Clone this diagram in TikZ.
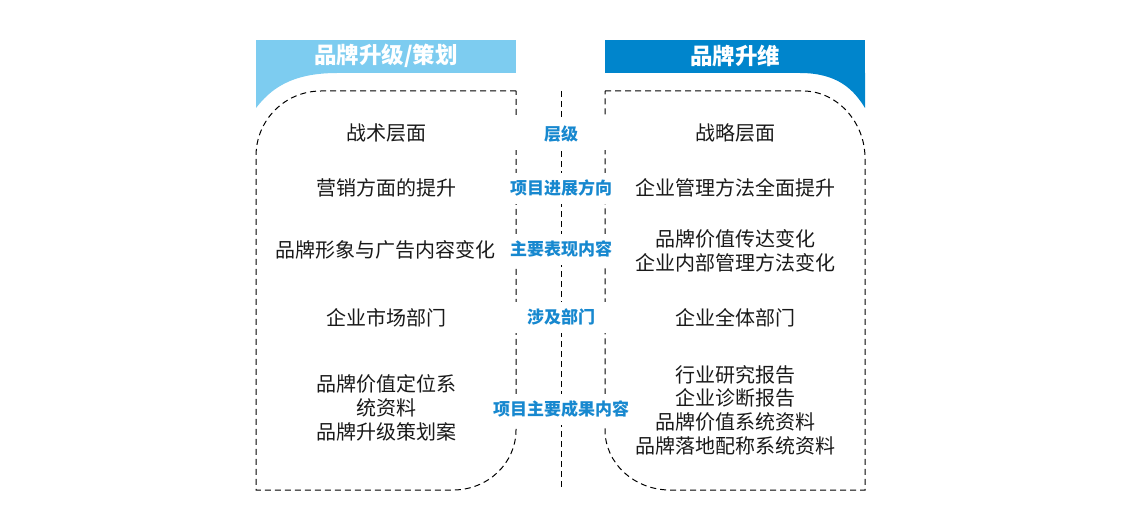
\documentclass[tikz,border=0pt]{standalone}
\usepackage{fontspec}
\newfontfamily\cjk{Noto Sans CJK SC}
\definecolor{lightblue}{RGB}{125,204,240}
\definecolor{darkblue}{RGB}{0,133,204}
\definecolor{labelblue}{RGB}{23,136,207}
\definecolor{textblack}{RGB}{25,25,25}
\begin{document}
\begin{tikzpicture}[x=1pt,y=-1pt,
  dashline/.style={draw=black,line width=1pt,dash pattern=on 6pt off 4pt},
  body/.style={font=\cjk\fontsize{20}{23.7}\selectfont,text=textblack,align=center,inner sep=0pt},
  midlabel/.style={font=\cjk\bfseries\fontsize{17}{20}\selectfont,text=labelblue,fill=white,
    minimum width=92pt,minimum height=31pt,inner sep=1pt},
  title/.style={font=\cjk\bfseries\fontsize{22.5}{24}\selectfont,text=white,inner sep=0pt}]
\useasboundingbox (0,0) rectangle (1121,532);

% banners
\fill[lightblue] (256,40) rectangle (516,73);
\fill[lightblue] (256,73) -- (337,73) .. controls (290,73) and (270,90) .. (256,108) -- cycle;
\fill[darkblue] (605,40) rectangle (865,73);
\fill[darkblue] (865,73) -- (800,73) .. controls (838,73) and (854,90) .. (865,108) -- cycle;
\node[title] (t1) at (386,56) {品牌升级/策划};
\node[title] (t2) at (735,56) {品牌升维};

% dashed boxes
\draw[dashline] (516,91) -- (321,91) .. controls (285,91) and (256,120) .. (256,156)
  -- (256,490) -- (453,490) .. controls (488,490) and (516,463) .. (516,430) -- cycle;
\draw[dashline] (605,91) -- (803,91) .. controls (837,91) and (865,122) .. (865,158)
  -- (865,490) -- (670,490) .. controls (634,490) and (605,463) .. (605,430) -- cycle;
\coordinate (ctop) at (561,91);
\coordinate (cbot) at (561,490);
\draw[dashline] (ctop) -- (cbot);

% middle labels
\node[midlabel] (m1) at (561,134) {层级};
\node[midlabel] (m2) at (561,188) {项目进展方向};
\node[midlabel] (m3) at (561,249) {主要表现内容};
\node[midlabel] (m4) at (561,317) {涉及部门};
\node[midlabel] (m5) at (561,409) {项目主要成果内容};

% left column
\node[body] (l1) at (386,133) {战术层面};
\node[body] (l2) at (386,188) {营销方面的提升};
\node[body] (l3) at (385,250) {品牌形象与广告内容变化};
\node[body] (l4) at (386,318) {企业市场部门};
\node[body] (l5) at (386,408) {品牌价值定位系\\统资料\\品牌升级策划案};

% right column
\node[body] (r1) at (735,133) {战略层面};
\node[body] (r2) at (735,188) {企业管理方法全面提升};
\node[body] (r3) at (735,251) {品牌价值传达变化\\企业内部管理方法变化};
\node[body] (r4) at (735,318) {企业全体部门};
\node[body] (r5) at (735,410) {行业研究报告\\企业诊断报告\\品牌价值系统资料\\品牌落地配称系统资料};
\end{tikzpicture}
\end{document}
